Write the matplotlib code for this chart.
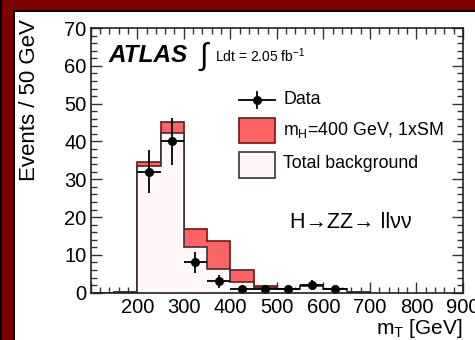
import numpy as np
import matplotlib
matplotlib.use("Agg")
import matplotlib.pyplot as plt
from matplotlib.patches import Rectangle
from matplotlib.ticker import MultipleLocator, FixedLocator

plt.rcParams['font.family'] = ['Liberation Sans', 'DejaVu Sans']
plt.rcParams['mathtext.fontset'] = 'custom'
plt.rcParams['mathtext.rm'] = 'Liberation Sans'
plt.rcParams['mathtext.it'] = 'Liberation Sans:italic'

# ---- data ----
bin_edges = [100, 150, 200, 250, 300, 350, 400, 450, 500, 550, 600, 650, 700]
background = [0.0, 0.3, 33.6, 42.2, 12.1, 6.2, 2.8, 1.2, 0.9, 1.9, 0.9, 0.2]
signal = [0.0, 0.0, 0.9, 2.9, 4.8, 7.5, 3.2, 0.6, 0.2, 0.0, 0.0, 0.0]
data_x = [225, 275, 325, 375, 425, 475, 525, 575, 625]
data_y = [32, 40, 8, 3, 1, 1, 1, 2, 1]

total = [b + s for b, s in zip(background, signal)]
data_err = np.sqrt(np.array(data_y, dtype=float))

W, H = 475, 340
fig = plt.figure(figsize=(W / 100, H / 100), dpi=100)
fig.patch.set_facecolor('#7a0000')
# frame panels
fig.add_artist(Rectangle((0, 0), 2 / W, 1, transform=fig.transFigure, facecolor='black', edgecolor='none', zorder=-3))
fig.add_artist(Rectangle((13 / W, 0), 1, 1 - 10 / H, transform=fig.transFigure, facecolor='black', edgecolor='none', zorder=-2))
fig.add_artist(Rectangle((15 / W, 0), 1, 1 - 12 / H, transform=fig.transFigure, facecolor='white', edgecolor='none', zorder=-1))

x0, x1 = 90.7, 463.0
y0, y1 = 292.7, 28.0
ax = fig.add_axes([x0 / W, 1 - y0 / H, (x1 - x0) / W, (y0 - y1) / H])
ax.set_facecolor('none')

ax.stairs(total, bin_edges, fill=True, facecolor='#ff6464', edgecolor='none', zorder=1)
ax.stairs(total, bin_edges, fill=False, edgecolor='#7a1010', linewidth=1.2, zorder=2)
ax.stairs(background, bin_edges, fill=True, facecolor='#fff7f8', edgecolor='none', zorder=3)
ax.stairs(background, bin_edges, fill=False, edgecolor='#333333', linewidth=1.2, zorder=4)

ax.errorbar(data_x, data_y, yerr=data_err, xerr=25, fmt='o', color='black',
            markersize=5.5, elinewidth=1.3, capsize=0, zorder=6)

ax.set_xlim(100, 900)
ax.set_ylim(0, 70)
ax.xaxis.set_major_locator(FixedLocator([100, 200, 300, 400, 500, 600, 700, 800, 900]))
ax.xaxis.set_minor_locator(MultipleLocator(20))
ax.yaxis.set_major_locator(MultipleLocator(10))
ax.yaxis.set_minor_locator(MultipleLocator(2))
ax.set_xticklabels(['', '200', '300', '400', '500', '600', '700', '800', '900'])
ax.tick_params(which='both', direction='in', top=True, right=True, width=1.0, color='#333333')
ax.tick_params(which='major', length=8, labelsize=14.5, pad=3)
ax.tick_params(axis='x', which='major', pad=4)
ax.tick_params(which='minor', length=4)
for s in ax.spines.values():
    s.set_linewidth(1.2)
    s.set_color('#222222')
    s.set_zorder(10)

def fx(px):
    return (px - x0) / (x1 - x0)

def fy(py):
    return (y0 - py) / (y0 - y1)

# ATLAS label
ax.text(fx(108), fy(56), 'ATLAS', transform=ax.transAxes, fontsize=17.5, fontweight='bold',
        fontstyle='italic', va='center', ha='left')
ax.text(fx(198), fy(57), r'$\int$', transform=ax.transAxes, fontsize=22, va='center', ha='left',
        family='DejaVu Sans')
ax.text(fx(215), fy(56), 'Ldt = 2.05 fb$^{\\mathregular{-1}}$', transform=ax.transAxes, fontsize=10,
        va='center', ha='left')

# legend (manual)
lx0, lx1 = fx(239), fx(275)
ax.plot([lx0, lx1], [fy(100), fy(100)], transform=ax.transAxes, color='black', lw=1.3, zorder=7)
ax.plot([fx(257)], [fy(100)], 'o', transform=ax.transAxes, color='black', markersize=5.5, zorder=7)
ax.plot([fx(257), fx(257)], [fy(92), fy(108)], transform=ax.transAxes, color='black', lw=1.3, zorder=7)
ax.add_patch(Rectangle((lx0, fy(143)), lx1 - lx0, fy(118) - fy(143), transform=ax.transAxes,
                       facecolor='#ff6464', edgecolor='#7a1010', lw=1.2, zorder=7))
ax.add_patch(Rectangle((lx0, fy(178)), lx1 - lx0, fy(152) - fy(178), transform=ax.transAxes,
                       facecolor='#fff7f8', edgecolor='#333333', lw=1.2, zorder=7))
ax.text(fx(283), fy(100), 'Data', transform=ax.transAxes, fontsize=12.8, va='center', ha='left')
ax.text(fx(283), fy(130), 'm$_{\\mathregular{H}}$=400 GeV, 1xSM', transform=ax.transAxes, fontsize=12.8,
        va='center', ha='left')
ax.text(fx(283), fy(164), 'Total background', transform=ax.transAxes, fontsize=12.8, va='center', ha='left')

ax.text(fx(290), fy(222), 'H\u2192ZZ\u2192 ll\u03bd\u03bd', transform=ax.transAxes, fontsize=15.5,
        va='center', ha='left')

fig.text(30 / W, 1 - 19 / H, 'Events / 50 GeV', rotation=90, fontsize=16, va='top', ha='center')
fig.text(463 / W, 1 - 328 / H, 'm$_{\\mathregular{T}}$ [GeV]', fontsize=15, va='center', ha='right')

fig.savefig('out.png', dpi=100, facecolor=fig.get_facecolor())
